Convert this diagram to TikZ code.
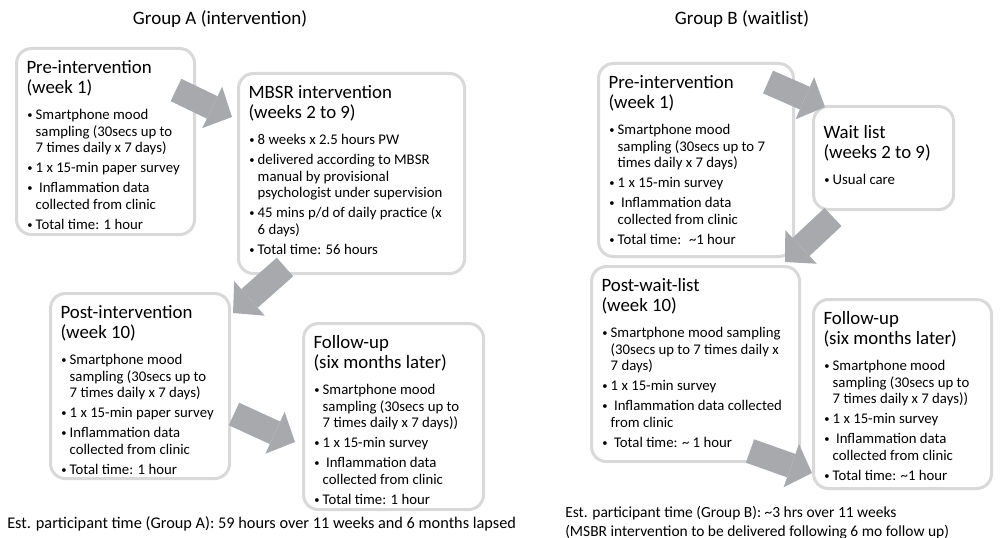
\documentclass[tikz,border=0pt]{standalone}
\usepackage{fontspec}
\setmainfont{Carlito}
\usepackage{xcolor}
\usepackage{tikz}
\usetikzlibrary{arrows.meta,positioning,calc}

\definecolor{boxgrey}{RGB}{217,217,217}
\definecolor{arrowgrey}{RGB}{167,169,172}

\newcommand{\itm}[1]{\par\vspace{0.085cm}\hangindent=0.23cm\hangafter=1\noindent
	\makebox[0.23cm][l]{\hspace{0.02cm}\raisebox{0.15ex}{\fontsize{7.5}{8}\selectfont\textbullet}}#1}
\newcommand{\stage}[5][0.625cm]{\parbox[t][#3][t]{#2}{\raggedright
	\fontsize{13.4}{14.3}\selectfont\rule{0pt}{#1}#4\par
	\vspace{0.145cm}\fontsize{10.5}{11.85}\selectfont #5}}

\tikzset{
	stage/.style={draw=boxgrey, line width=0.075cm, rounded corners=0.375cm, fill=white,
		anchor=north west, inner xsep=0.25cm, inner ysep=0pt},
	flow/.style={draw=arrowgrey, line width=0.62cm,
		-{Triangle[width=1.15cm,length=0.55cm,line width=0pt]}},
	hdr/.style={anchor=base, font=\fontsize{13.5}{16}\selectfont},
	note/.style={anchor=base west, inner sep=0pt, align=left}
}

\begin{document}
\begin{tikzpicture}[x=0.025cm,y=-0.025cm]
	\fill[white] (0,0) rectangle (1004,538);
	\useasboundingbox (0,0) rectangle (1004,538);
	
	\node[hdr] (hdrA) at (220,25) {Group A (intervention)};
	\node[hdr] (hdrB) at (742,25) {Group B (waitlist)};
	
	\node[stage] (preA) at (15,47) {\stage{3.95cm}{4.65cm}{Pre-intervention\newline (week 1)}{%
		\itm{Smartphone mood\newline sampling (30secs up to\newline 7 times daily x 7 days)}
		\itm{1 x 15-min paper survey}
		\itm{\ Inflammation data\newline collected from clinic}
		\itm{Total time: 1 hour}}};
	\node[stage] (mbsrA) at (237,72) {\stage{5.15cm}{5cm}{MBSR intervention\newline (weeks 2 to 9)}{%
		\itm{8 weeks x 2.5 hours PW}
		\itm{delivered according to MBSR\newline manual by provisional\newline psychologist under supervision}
		\itm{45 mins p/d of daily practice (x\newline 6 days)}
		\itm{Total time: 56 hours}}};
	\node[stage] (postA) at (49,292) {\stage{3.975cm}{4.625cm}{Post-intervention\newline (week 10)}{%
		\itm{Smartphone mood\newline sampling (30secs up to\newline 7 times daily x 7 days)}
		\itm{1 x 15-min paper survey}
		\itm{Inflammation data\newline collected from clinic}
		\itm{Total time: 1 hour}}};
	\node[stage] (followA) at (302,322) {\stage{4cm}{4.65cm}{Follow-up\newline (six months later)}{%
		\itm{Smartphone mood\newline sampling (30secs up to\newline 7 times daily x 7 days))}
		\itm{1 x 15-min survey}
		\itm{\ Inflammation data\newline collected from clinic}
		\itm{Total time: 1 hour}}};
	
	\node[stage] (preB) at (597,62) {\stage{4.375cm}{4.825cm}{Pre-intervention\newline (week 1)}{%
		\itm{Smartphone mood\newline sampling (30secs up to 7\newline times daily x 7 days)}
		\itm{1 x 15-min survey}
		\itm{\ Inflammation data\newline collected from clinic}
		\itm{Total time: \ \textasciitilde1 hour}}};
	\node[stage] (waitB) at (812,105) {\stage[0.8cm]{3cm}{2.575cm}{Wait list\newline (weeks 2 to 9)}{%
		\itm{Usual care}}};
	\node[stage] (postB) at (590,265) {\stage{4.7cm}{4.875cm}{Post-wait-list\newline (week 10)}{%
		\itm{Smartphone mood sampling\newline (30secs up to 7 times daily x\newline 7 days)}
		\itm{1 x 15-min survey}
		\itm{\ Inflammation data collected\newline from clinic}
		\itm{\ Total time: \textasciitilde\ 1 hour}}};
	\node[stage] (followB) at (812,298) {\stage{3.95cm}{4.725cm}{Follow-up\newline (six months later)}{%
		\itm{Smartphone mood\newline sampling (30secs up to\newline 7 times daily x 7 days))}
		\itm{1 x 15-min survey}
		\itm{\ Inflammation data\newline collected from clinic}
		\itm{Total time: \textasciitilde1 hour}}};
	
	\coordinate (t1) at (176,90);
	\coordinate (h1) at (232,117);
	\coordinate (t2) at (285,267);
	\coordinate (h2) at (233,313);
	\coordinate (t3) at (234,414);
	\coordinate (h3) at (295,442);
	\coordinate (t4) at (768,82);
	\coordinate (h4) at (825,107);
	\coordinate (t5) at (833,217);
	\coordinate (h5) at (785,262);
	\coordinate (t6) at (750,451);
	\coordinate (h6) at (812,473);
	
	\draw[flow] (t1) -- (h1);
	\draw[flow] (t2) -- (h2);
	\draw[flow] (t3) -- (h3);
	\draw[flow] (t4) -- (h4);
	\draw[flow] (t5) -- (h5);
	\draw[flow] (t6) -- (h6);
	
	\node[note, font=\fontsize{11.6}{13.5}\selectfont] (noteA) at (7,528)
		{Est. participant time (Group A): 59 hours over 11 weeks and 6 months lapsed};
	\node[note, font=\fontsize{11}{13.5}\selectfont] (noteB) at (565,536)
		{Est. participant time (Group B): \textasciitilde3 hrs over 11 weeks\\(MSBR intervention to be delivered following 6 mo follow up)};
\end{tikzpicture}
\end{document}
